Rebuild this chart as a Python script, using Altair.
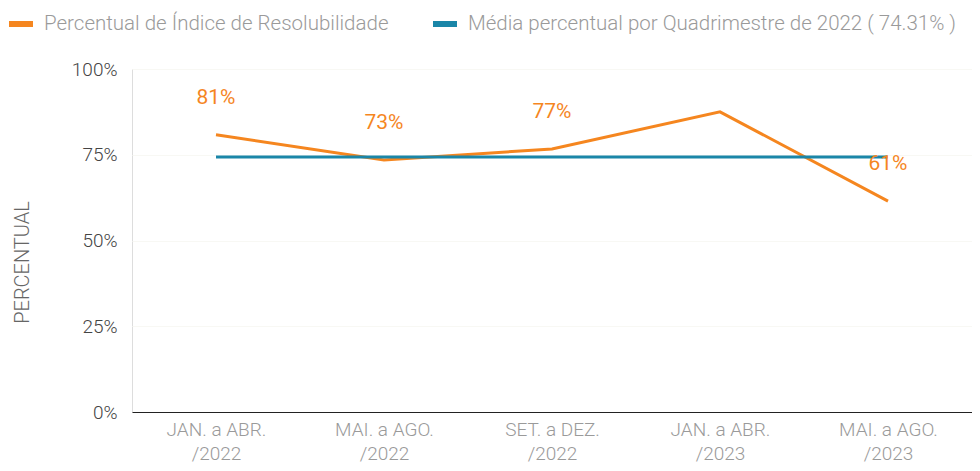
import altair as alt
import pandas as pd

categorias = ["JAN. a ABR.|/2022", "MAI. a AGO.|/2022", "SET. a DEZ.|/2022",
              "JAN. a ABR.|/2023", "MAI. a AGO.|/2023"]
indice = [0.808, 0.735, 0.767, 0.875, 0.615]
rotulos = ["81%", "73%", "77%", "", "61%"]
media_2022 = 0.7431

serie_a = "Percentual de Índice de Resolubilidade"
serie_b = "Média percentual por Quadrimestre de 2022 ( 74.31% )"

linhas = pd.DataFrame(
    [{"cat": c, "valor": v, "serie": serie_a, "ordem": i} for i, (c, v) in enumerate(zip(categorias, indice))]
    + [{"cat": c, "valor": media_2022, "serie": serie_b, "ordem": i} for i, c in enumerate(categorias)]
)
textos = pd.DataFrame({"cat": categorias, "valor": indice, "rotulo": rotulos})

FONT = "Roboto"
ORANGE = "#F5861F"
BLUE = "#1A86A8"

x_enc = alt.X(
    "cat:N", sort=categorias, scale=alt.Scale(type="point", padding=0.5),
    axis=alt.Axis(
        title=None, ticks=False, domain=True, domainColor="#222", domainWidth=1.2,
        labelExpr="split(datum.label, '|')", labelAngle=0, labelFontSize=19,
        labelColor="#9a9a9a", labelFont=FONT, labelFontWeight=300,
        labelLineHeight=24, labelPadding=8, grid=False,
    ),
)
y_enc = alt.Y(
    "valor:Q", scale=alt.Scale(domain=[0, 1]),
    axis=alt.Axis(
        title="PERCENTUAL", format=".0%", values=[0, 0.25, 0.5, 0.75, 1],
        ticks=False, domain=False, labelFontSize=19, labelColor="#444",
        labelFont=FONT, labelFontWeight=300, labelPadding=15,
        titleFont=FONT, titleFontWeight=300, titleFontSize=20, titleColor="#666",
        titleX=-100, titleY=193, titleAngle=-90, titleAlign="center", titleBaseline="bottom",
        grid=True, gridColor="#f8f8f4", gridWidth=1,
    ),
)

linha = alt.Chart(linhas).mark_line(strokeWidth=3).encode(
    x=x_enc, y=y_enc,
    order="ordem:Q",
    color=alt.Color(
        "serie:N", sort=[serie_a, serie_b],
        scale=alt.Scale(domain=[serie_a, serie_b], range=[ORANGE, BLUE]),
        legend=alt.Legend(
            title=None, orient="none", direction="horizontal",
            legendX=-126, legendY=-60,
            symbolType="stroke", symbolSize=576, symbolStrokeWidth=6,
            labelFont=FONT, labelFontWeight=300, labelFontSize=20.5, labelColor="#9a9a9a",
            labelOffset=8, columnPadding=32, labelLimit=700,
        ),
    ),
)

rotulo = alt.Chart(textos).mark_text(
    dy=-37, fontSize=21, font=FONT, color=ORANGE, fontWeight=400
).encode(
    x=alt.X("cat:N", sort=categorias),
    y="valor:Q",
    text="rotulo:N",
)

chart = alt.layer(linha, rotulo).properties(
    width=840, height=343,
    padding={"left": 124, "top": 61, "right": 0, "bottom": 51},
    autosize=alt.AutoSizeParams(type="none"),
).configure_view(stroke=None).configure(background="white")

chart.save("out.html", embed_options={"renderer": "svg", "actions": False})
